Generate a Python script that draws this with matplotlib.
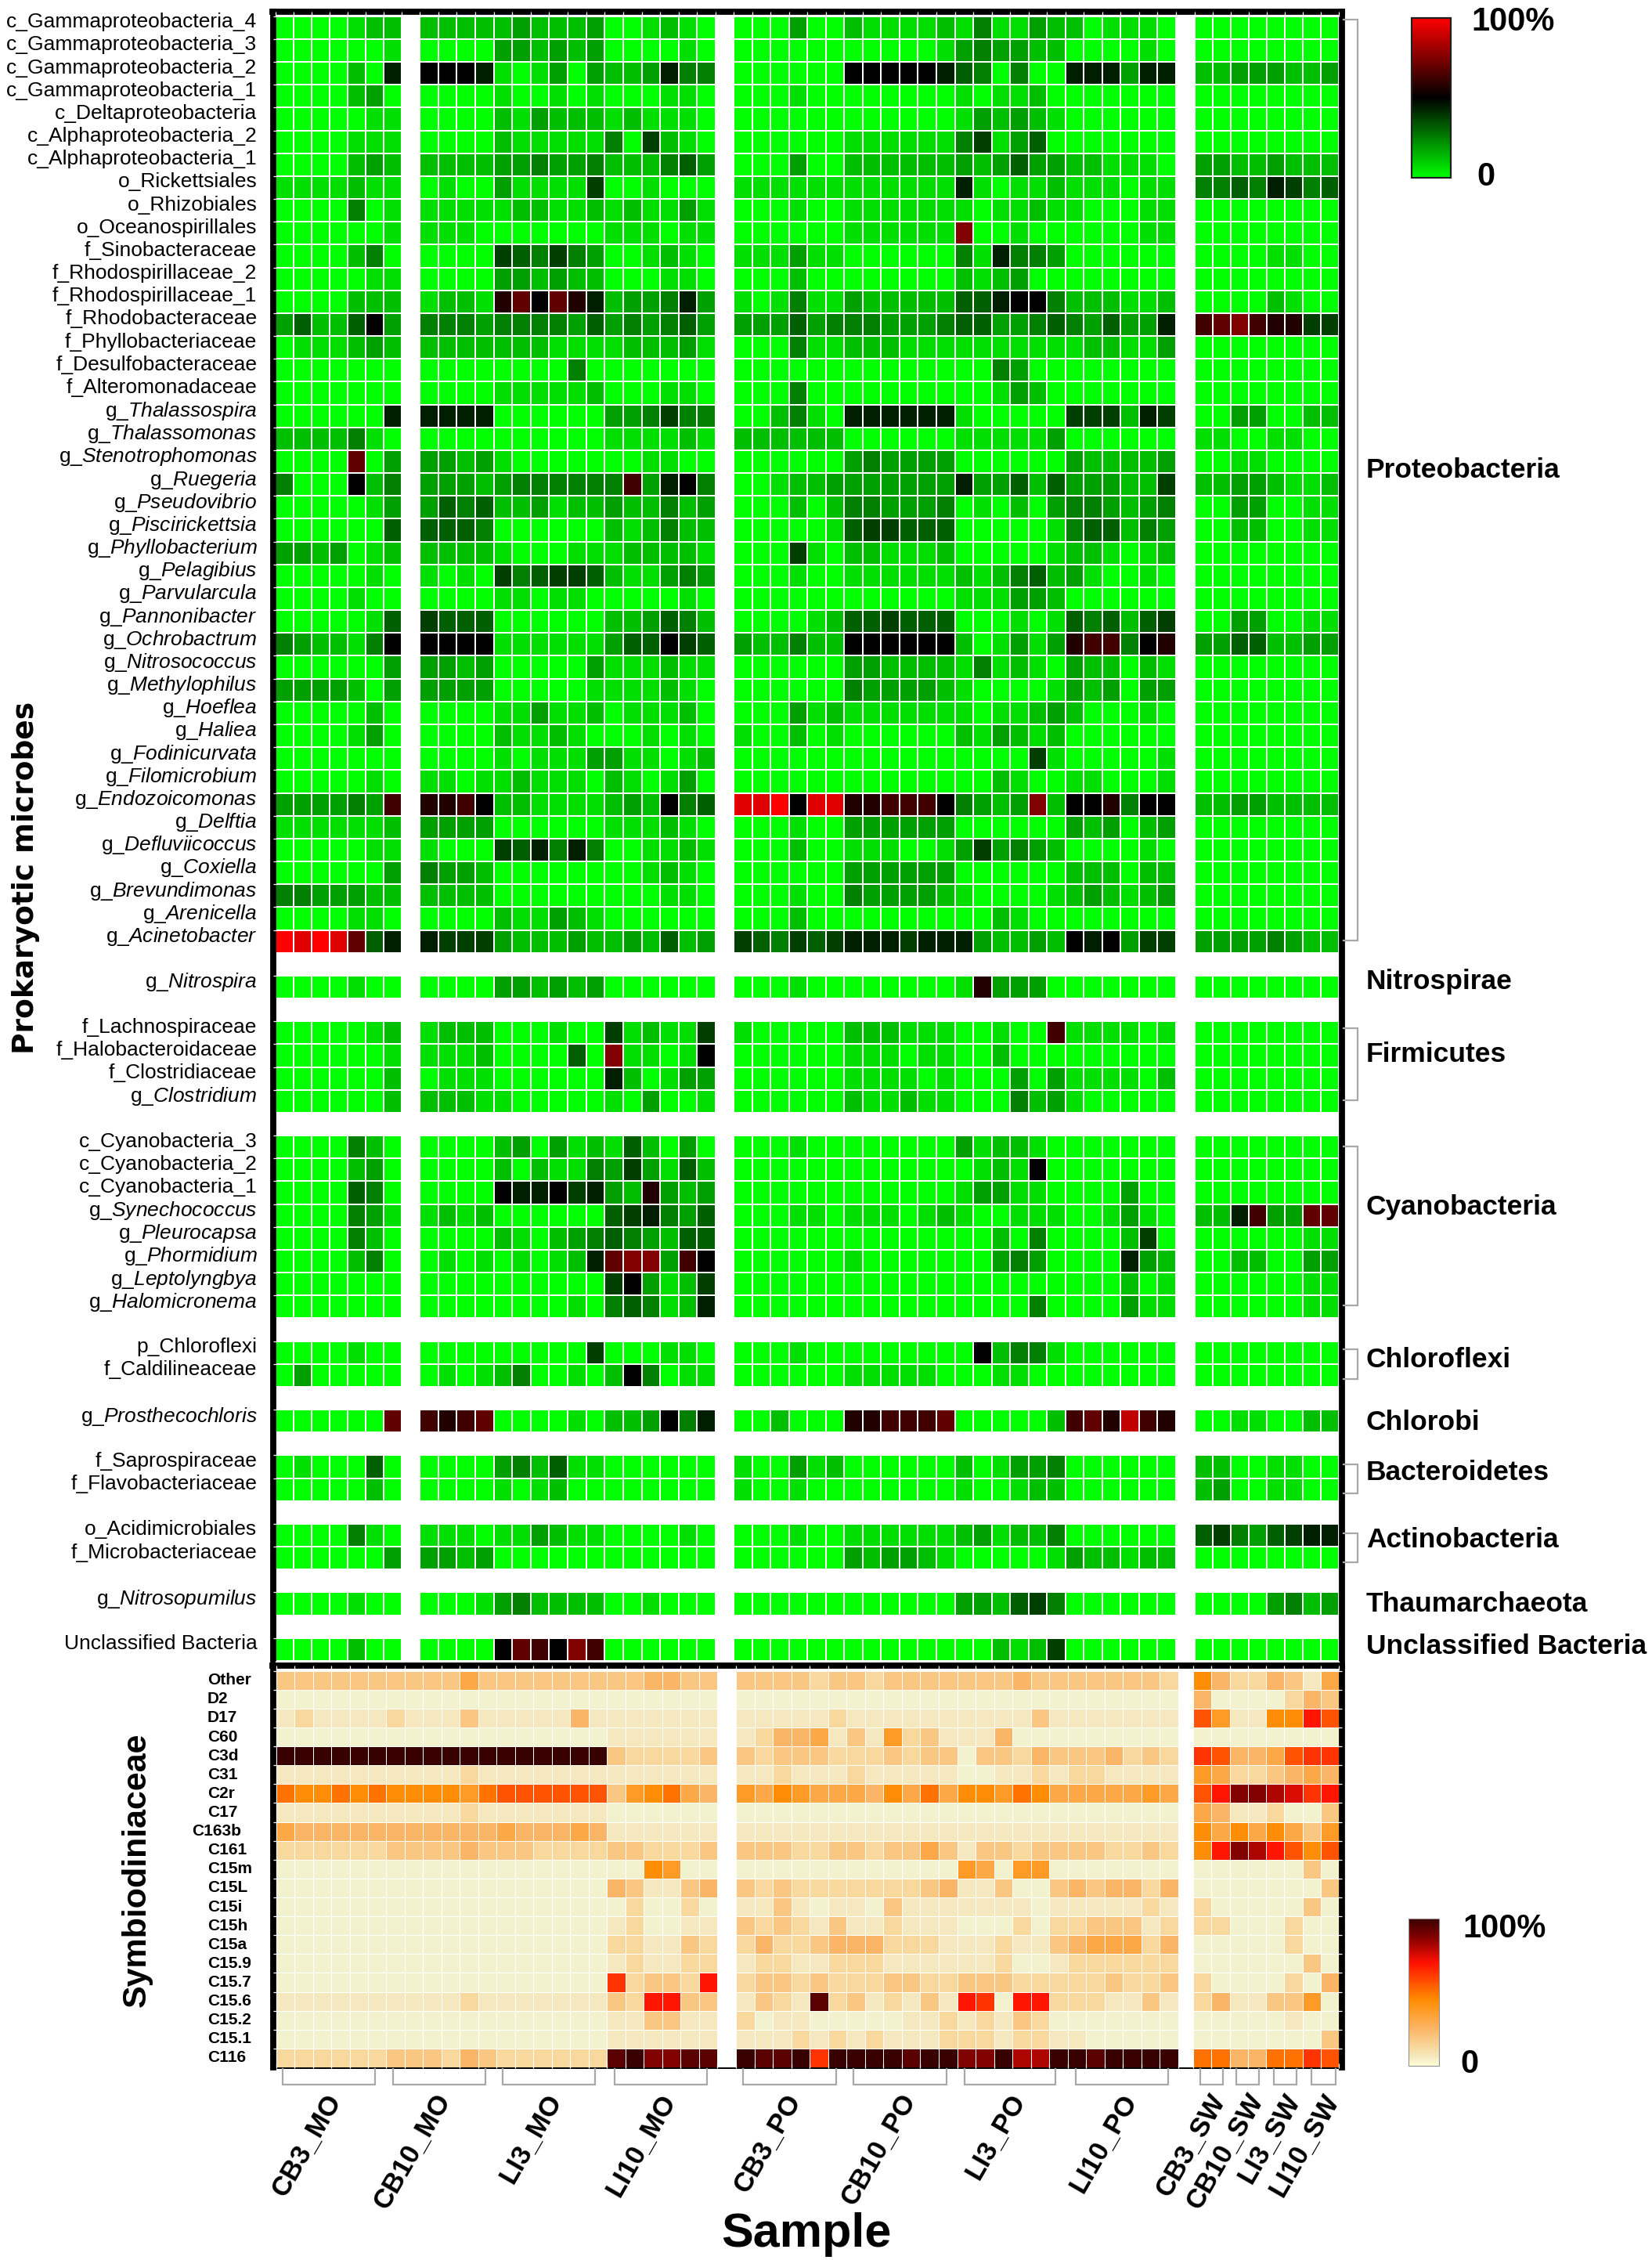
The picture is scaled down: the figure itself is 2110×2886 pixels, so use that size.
import numpy as np
import matplotlib
matplotlib.use("Agg")
import matplotlib.pyplot as plt
from matplotlib.colors import LinearSegmentedColormap
from matplotlib.lines import Line2D

plt.rcParams["font.family"] = ["Liberation Sans", "DejaVu Sans"]
plt.rcParams["mathtext.fontset"] = "custom"
plt.rcParams["mathtext.rm"] = "Liberation Sans"
plt.rcParams["mathtext.it"] = "Liberation Sans:italic"

W, H = 2110, 2886

# rows are read off the picture, one character per cell, 0..g = 0..100 %
# blocks: 7 + 16 + 24 + 8 samples


def it(name):
    return "g_$\\mathit{" + name + "}$"


proteo_labels = ["c_Gammaproteobacteria_4", "c_Gammaproteobacteria_3", "c_Gammaproteobacteria_2",
                 "c_Gammaproteobacteria_1", "c_Deltaproteobacteria", "c_Alphaproteobacteria_2",
                 "c_Alphaproteobacteria_1", "o_Rickettsiales", "o_Rhizobiales", "o_Oceanospirillales",
                 "f_Sinobacteraceae", "f_Rhodospirillaceae_2", "f_Rhodospirillaceae_1", "f_Rhodobacteraceae",
                 "f_Phyllobacteriaceae", "f_Desulfobacteraceae", "f_Alteromonadaceae", it("Thalassospira"),
                 it("Thalassomonas"), it("Stenotrophomonas"), it("Ruegeria"), it("Pseudovibrio"),
                 it("Piscirickettsia"), it("Phyllobacterium"), it("Pelagibius"), it("Parvularcula"),
                 it("Pannonibacter"), it("Ochrobactrum"), it("Nitrosococcus"), it("Methylophilus"),
                 it("Hoeflea"), it("Haliea"), it("Fodinicurvata"), it("Filomicrobium"), it("Endozoicomonas"),
                 it("Delftia"), it("Defluviicoccus"), it("Coxiella"), it("Brevundimonas"), it("Arenicella"),
                 it("Acinetobacter")]
proteo = [
    "0000122 2222 232223 001210 000300 211112 141132 201110 00000000",
    "0000001 0000 332323 000010 000000 000001 343322 000010 00000000",
    "0000207 8887 101303 223744 000000 888887 540400 777377 22333223",
    "0000230 0000 100101 000110 000100 000000 101120 000000 00000000",
    "0000011 0000 213222 121110 000000 000000 132321 000000 00000000",
    "0000111 0000 211111 406210 000000 111111 461350 000000 00000000",
    "0000232 2222 334334 222453 000300 222222 323533 221110 33223222",
    "1111211 0100 311116 001000 111111 111111 710112 111011 44547645",
    "0000401 1111 122112 121131 000100 111111 101121 100011 00000000",
    "0000001 1110 000000 111011 000000 111111 c00100 000011 00000000",
    "0000240 0000 654643 001210 111311 000000 417443 000000 00001100",
    "0000011 0000 332322 000110 000200 000000 212300 000000 00000000",
    "0000222 1221 9b8b97 233473 101411 322222 557884 222112 00002100",
    "3522583 4443 444435 343453 333534 443334 553345 435337 abca9966",
    "0111232 2222 222111 122231 000411 222111 111111 122113 00000000",
    "0000000 0000 000040 000000 000000 000000 004300 000000 00000000",
    "0000000 0000 111112 000110 000400 000000 001320 000000 00000000",
    "0000007 7777 000000 334644 002410 777777 100000 666276 00330022",
    "2222410 0000 000000 111121 222222 000000 111113 000000 11001100",
    "0000b03 3323 100000 001100 000000 343333 000000 322223 00110000",
    "4000824 3332 344444 4a3784 001223 333333 733525 333226 22332112",
    "0000013 3545 223122 322423 000202 443334 010203 443234 00330011",
    "0000005 5554 000000 212422 000001 566555 000001 455243 00220011",
    "3323012 2222 100011 122221 000610 221112 000001 221012 00000000",
    "0000010 1010 645665 211343 000100 111111 212452 310010 00000000",
    "0000100 0000 110110 000010 000000 000000 111332 000000 00000000",
    "0000015 6555 000000 223542 000012 556555 000101 545256 00330011",
    "4322148 8888 111111 355865 322422 888888 201313 9aa489 33552233",
    "0000003 3323 000003 111211 000000 332222 141210 322021 00000000",
    "3333203 3333 000001 111210 000000 433332 100001 323033 00000000",
    "0000020 0000 113112 011120 000312 111111 101123 200010 00000000",
    "0000130 0000 211210 001010 100201 000000 213212 000000 00000000",
    "0000000 0000 101113 311012 000000 000000 000061 000001 00000000",
    "0000010 1101 121110 210130 000000 000000 002100 110001 00000000",
    "333343a 99a8 221111 232845 ffg8ff 99aaa8 4323c2 889488 22332222",
    "1111112 3333 000000 111210 000100 333333 000000 323023 00000000",
    "0000011 1000 657474 001121 000200 111001 363432 000010 00000000",
    "0000003 4332 000000 001210 000000 333333 000000 222022 00000000",
    "4433322 2222 000000 000110 000100 433332 100001 232123 00000000",
    "0000110 0000 211321 000000 000200 000000 002100 000000 00000000",
    "gfgfb57 7666 322232 232523 654656 777677 732232 878366 33334322",
]

nitrospirae_labels = [it("Nitrospira")]
nitrospirae = ["0000100 0000 332323 000000 000100 000000 193330 000000 00000000"]

firmicutes_labels = ["f_Lachnospiraceae", "f_Halobacteroidaceae", "f_Clostridiaceae", it("Clostridium")]
firmicutes = [
    "0000012 1222 000100 612116 100000 222111 00100a 111101 00000000",
    "0000001 1112 000050 c11018 000000 111011 002000 000000 00000000",
    "0000002 0111 000000 720133 000000 111101 000303 111102 00000000",
    "0000002 2221 100000 103001 000000 211211 000423 100000 00000000",
]

cyano_labels = ["c_Cyanobacteria_3", "c_Cyanobacteria_2", "c_Cyanobacteria_1", it("Synechococcus"),
                it("Pleurocapsa"), it("Phormidium"), it("Leptolyngbya"), it("Halomicronema")]
cyano = [
    "0000420 0000 230312 152030 000100 000000 312210 000000 00000000",
    "0000230 0000 202114 363152 000000 000000 012180 000000 00000000",
    "0000540 0000 877867 329323 000000 000000 133110 000300 00000000",
    "0000431 1212 000000 567435 000110 111012 100111 001310 227a33bb",
    "0000420 0000 210234 543255 000000 000000 002040 000260 00000011",
    "0000240 0101 010127 bcc3a8 000000 100000 003430 000732 00220033",
    "0000000 0000 000000 683126 000000 000000 000000 000201 00000011",
    "0000000 0000 000010 454127 000000 000000 000040 000311 00000011",
]

chloroflexi_labels = ["p_Chloroflexi", "f_Caldilineaceae"]
chloroflexi = [
    "0000100 0000 000006 000110 000100 000000 082441 000000 00000000",
    "0300000 0101 240010 284011 000000 111110 001100 000000 00000000",
]

chlorobi_labels = [it("Prosthecochloris")]
chlorobi = ["000000b a9ab 000010 223847 002000 99aaab 000002 ab9ea9 00110022"]

bacteroidetes_labels = ["f_Saprospiraceae", "f_Flavobacteriaceae"]
bacteroidetes = [
    "0100050 0000 342511 000000 100312 000000 201334 000000 22001100",
    "0000020 0000 101200 000000 100100 000000 100122 000000 23001100",
]

actino_labels = ["o_Acidimicrobiales", "f_Microbacteriaceae"]
actino = [
    "0000410 1110 113211 000010 000100 111111 231224 000000 56435677",
    "0000003 3323 000000 000000 000000 323321 000001 322122 00000000",
]

thaum_labels = [it("Nitrosopumilus")]
thaum = ["0000100 0001 342222 001000 000000 000000 332564 000000 00003423"]

unclass_labels = ["Unclassified Bacteria"]
unclass = ["0000200 0000 8ba8ca 000000 000000 000000 002126 000000 00000000"]

symbio_labels = ["Other", "D2", "D17", "C60", "C3d", "C31", "C2r", "C17", "C163b", "C161", "C15m", "C15L",
                 "C15i", "C15h", "C15a", "C15.9", "C15.7", "C15.6", "C15.2", "C15.1", "C116"]
# blocks: 24 + 24 + 8 samples
symbio = [
    "333333 333353 333333 334433 333323 323333 333433 333332 74224315",
    "000000 000000 000000 000000 000000 000000 000000 000000 40000243",
    "121111 211131 111141 111111 111112 111111 111131 111111 961177b9",
    "000000 000000 000000 111111 124451 316231 114000 000000 00000000",
    "gggggg gggggg gggggg 322223 323332 223233 033243 334232 a94459aa",
    "111111 111121 111111 111111 112111 211111 001121 221111 65223454",
    "877878 777768 999999 367854 657655 547585 776875 555565 9beedcab",
    "111111 111121 111111 000000 000000 000000 000000 000000 54112003",
    "544444 444444 544454 111111 111111 111111 111111 111111 75757536",
    "222222 333343 332222 332223 333223 323353 133233 332232 7bedb979",
    "000000 000000 000000 007600 000000 000000 650660 000000 00000030",
    "000000 000000 000000 431134 323222 222234 113003 434424 00000003",
    "000000 000000 000000 020020 113101 103111 111101 111121 20000030",
    "000000 000000 000000 120011 323213 112111 000202 233312 22000200",
    "000000 000000 000000 221132 242234 442221 112113 455524 00000200",
    "000000 000000 000000 121122 122112 221111 112001 222222 00000030",
    "000000 000000 000000 a2332b 233232 223322 333222 223223 20000204",
    "111111 111121 111111 32bb33 1321f2 312131 ba0bb2 221131 24113360",
    "000000 000000 000000 113311 201100 000112 121320 000000 00000100",
    "000000 000000 000000 111111 111212 121112 221221 100000 00000003",
    "222222 333243 222222 fgeeff gffgag gggfgg eegddg gfgggg 884488a9",
]

groups_top = [(proteo, proteo_labels), (nitrospirae, nitrospirae_labels), (firmicutes, firmicutes_labels),
              (cyano, cyano_labels), (chloroflexi, chloroflexi_labels), (chlorobi, chlorobi_labels),
              (bacteroidetes, bacteroidetes_labels), (actino, actino_labels), (thaum, thaum_labels),
              (unclass, unclass_labels)]

phyla = ["Proteobacteria", "Nitrospirae", "Firmicutes", "Cyanobacteria", "Chloroflexi", "Chlorobi",
         "Bacteroidetes", "Actinobacteria", "Thaumarchaeota", "Unclassified Bacteria"]
sample_groups = ["CB3_MO", "CB10_MO", "LI3_MO", "LI10_MO", "CB3_PO", "CB10_PO", "LI3_PO", "LI10_PO",
                 "CB3_SW", "CB10_SW", "LI3_SW", "LI10_SW"]


def parse(row, gaps):
    vals = [int(c, 17) / 16 * 100 for c in row.replace(" ", "")]
    return np.insert(np.array(vals), gaps, np.nan)


def block_edges(blocks):
    # pixel extent of each block of samples, the step between blocks becomes the empty column
    edges = [np.linspace(a, b, n + 1) for a, b, n in blocks]
    return np.concatenate(edges)


def fpx(x, y):
    return x / W, 1 - y / H


def add_axes_px(left, top, right, bottom):
    return fig.add_axes([left / W, 1 - bottom / H, (right - left) / W, (bottom - top) / H])


def px_line(xs, ys, color="#a8a8a8", lw=1.6):
    xf = [x / W for x in xs]
    yf = [1 - y / H for y in ys]
    fig.add_artist(Line2D(xf, yf, color=color, lw=lw, solid_joinstyle="miter"))


def notches(ax, edges, matrix, sides):
    rows = np.flatnonzero(~np.isnan(matrix).all(axis=1))
    ax.set_xticks(edges, minor=True)
    ax.set_yticks(rows, minor=True)
    ax.set_axisbelow(False)
    ax.tick_params(which="minor", direction="in", color="white", length=4, width=0.9, **sides)


green_black_red = LinearSegmentedColormap.from_list("gbr", ["#00ff00", "#000000", "#ff0000"])
low_stops = [(0.06, "#f5e9bf"), (0.13, "#f8d79b"), (0.25, "#fbb566"), (0.45, "#ff8c00"),
             (0.7, "#ff1000"), (0.88, "#800000"), (1, "#380000")]
cream_red = LinearSegmentedColormap.from_list("crd", [(0, "#f2f3ce")] + low_stops)
cream_bar = LinearSegmentedColormap.from_list("crb", [(0, "#fffdd8")] + low_stops)

fig = plt.figure(figsize=(W / 100, H / 100), dpi=100, facecolor="white")

# ---- prokaryotes panel ----
top_rows, top_labels, label_rows = [], [], []
for rows, labels in groups_top:
    for row, label in zip(rows, labels):
        label_rows.append(len(top_rows))
        top_rows.append(parse(row, [7, 23, 47]))
        top_labels.append(label)
    top_rows.append(np.full(58, np.nan))
top_matrix = np.array(top_rows[:-1])

top_x = block_edges([(352, 513, 7), (536, 914, 16), (937, 1502, 24), (1526, 1710, 8)])
cell_h = (2121 - 20.7) / 72
ax = add_axes_px(348.5, 15, 1714, 2127)
ax.pcolormesh(top_x, np.arange(top_matrix.shape[0] + 1), np.ma.masked_invalid(top_matrix),
              cmap=green_black_red, vmin=0, vmax=100, edgecolors="white", linewidth=1.1)
ax.set_xlim(348.5, 1714)
ax.set_ylim(72 + 6 / cell_h, -5.7 / cell_h)
ax.set_xticks([])
ax.set_yticks(np.array(label_rows) + 0.17, top_labels, fontsize=19)
ax.tick_params(axis="y", which="major", length=0, pad=14.5)
notches(ax, top_x, top_matrix, dict(left=True, top=True, bottom=True))
for s in ax.spines.values():
    s.set_linewidth(5.6)
    s.set_color("black")

# ---- Symbiodiniaceae panel ----
low_matrix = np.array([parse(r, [24, 48]) for r in symbio])
low_x = block_edges([(352.6, 916, 24), (940, 1505, 24), (1524, 1710, 8)])
low_h = (2640 - 2133.7) / 21
ax2 = add_axes_px(349, 2127, 1714, 2640.5)
ax2.pcolormesh(low_x, np.arange(22), np.ma.masked_invalid(low_matrix), cmap=cream_red,
               vmin=0, vmax=100, edgecolors="#ffffff", linewidth=0.7)
ax2.set_xlim(349, 1714)
ax2.set_ylim(21 + 0.5 / low_h, -6.7 / low_h)
ax2.set_xticks([])
ax2.set_yticks([])
notches(ax2, low_x, low_matrix, dict(left=True, top=True, right=True))
for name, s in ax2.spines.items():
    s.set_linewidth(1.4 if name == "bottom" else 5.6)
    s.set_color("black")
for i, label in enumerate(symbio_labels):
    x_px = 245 if label == "C163b" else 265
    ax2.text((x_px - 349) / (1714 - 349), i + 0.5, label, transform=ax2.get_yaxis_transform(),
             ha="left", va="center", fontsize=15, fontweight="bold", clip_on=False)

# ---- phylum brackets and names ----
bracket_spans = [(25, 1201), (1313, 1405), (1464, 1667), (1723, 1761), (1869.5, 1906.5), (1957.6, 1994.7)]
for y0, y1 in bracket_spans:
    px_line([1716, 1734, 1734, 1716], [y0, y0, y1, y1])

phylum_y = [600, 1254, 1347, 1541, 1736, 1816, 1880, 1967, 2048, 2102]
for name, y in zip(phyla, phylum_y):
    fig.text(*fpx(1745, y), name, ha="left", va="center", fontsize=25.5, fontweight="bold")

# ---- sample brackets and names ----
sample_spans = [(361, 479), (502, 620), (642, 760), (785, 903), (949, 1068), (1090, 1209), (1232, 1348),
                (1374, 1492), (1533, 1562), (1579, 1608), (1627, 1656), (1675, 1706)]
for x0, x1 in sample_spans:
    px_line([x0, x0, x1, x1], [2642, 2662, 2662, 2642])

sample_x = [414, 554, 695, 841, 1001, 1148, 1287, 1430, 1543, 1592, 1638, 1688]
for name, x in zip(sample_groups, sample_x):
    fig.text(*fpx(x, 2668), name, ha="right", va="top", rotation=60, rotation_mode="anchor",
             fontsize=25, fontweight="bold")

# ---- axis titles ----
fig.text(*fpx(33, 1121), "Prokaryotic microbes", rotation=90, ha="center", va="center", fontsize=27,
         fontweight="bold", family=["DejaVu Sans"])
fig.text(*fpx(175, 2388), "Symbiodiniaceae", rotation=90, ha="center", va="center", fontsize=31,
         fontweight="bold")
fig.text(*fpx(1030, 2853), "Sample", ha="center", va="center", fontsize=44, fontweight="bold")

# ---- colour scales ----
cax = add_axes_px(1803, 23, 1853, 227)
cb = fig.colorbar(plt.cm.ScalarMappable(cmap=green_black_red), cax=cax)
cb.set_ticks([])
cb.outline.set_linewidth(1.6)
cb.outline.set_edgecolor("#202020")
fig.text(*fpx(1933, 28), "100%", ha="center", va="center", fontsize=30, fontweight="bold")
fig.text(*fpx(1898, 226), "0", ha="center", va="center", fontsize=30, fontweight="bold")

cax2 = add_axes_px(1799, 2450, 1838, 2638)
cb2 = fig.colorbar(plt.cm.ScalarMappable(cmap=cream_bar), cax=cax2)
cb2.set_ticks([])
cb2.outline.set_linewidth(0.8)
cb2.outline.set_edgecolor("#909090")
fig.text(*fpx(1922, 2463), "100%", ha="center", va="center", fontsize=30, fontweight="bold")
fig.text(*fpx(1877, 2636), "0", ha="center", va="center", fontsize=30, fontweight="bold")

fig.savefig("out.png", dpi=100, facecolor="white")
